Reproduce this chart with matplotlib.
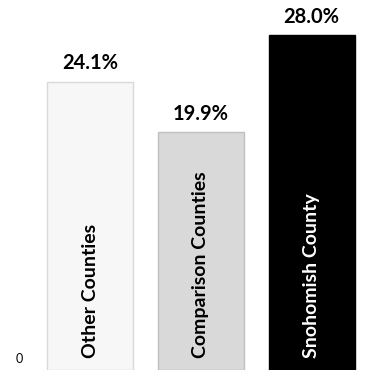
import matplotlib.pyplot as plt
import matplotlib.transforms as mtransforms

categories = ['Other Counties', 'Comparison Counties', 'Snohomish County']
values = [24.1, 19.9, 28.0]
face_colors = ['#f7f7f7', '#d9d9d9', '#000000']
edge_colors = ['#d9d9d9', '#bfbfbf', '#000000']
text_colors = ['black', 'black', 'white']

plt.rcParams['font.family'] = ['Lato', 'DejaVu Sans']

fig = plt.figure(figsize=(3.77, 3.70), dpi=100)
ax = fig.add_axes([30 / 377, 0, 347 / 377, 1])

x = range(len(categories))
bars = ax.bar(x, values, width=0.777, color=face_colors, edgecolor=edge_colors, linewidth=1)

for i, v in enumerate(values):
    ax.text(i, v + 0.7, f'{v:.1f}%', ha='center', va='bottom',
            fontsize=14.5, fontweight='bold')
    ax.text(i, 1.0, categories[i], rotation=90, ha='center', va='bottom',
            fontsize=14, fontweight='bold', color=text_colors[i])

ax.set_xlim(-0.5418, 2.591)
ax.set_ylim(0, 30.94)
ax.set_xticks([])
ax.set_yticks([0])
ax.tick_params(axis='y', length=0, pad=5, labelsize=9)
offset = mtransforms.ScaledTranslation(0, 5 / 100, fig.dpi_scale_trans)
for lab in ax.get_yticklabels():
    lab.set_va('bottom')
    lab.set_transform(lab.get_transform() + offset)
for s in ax.spines.values():
    s.set_visible(False)

fig.savefig('out.png', dpi=100)
